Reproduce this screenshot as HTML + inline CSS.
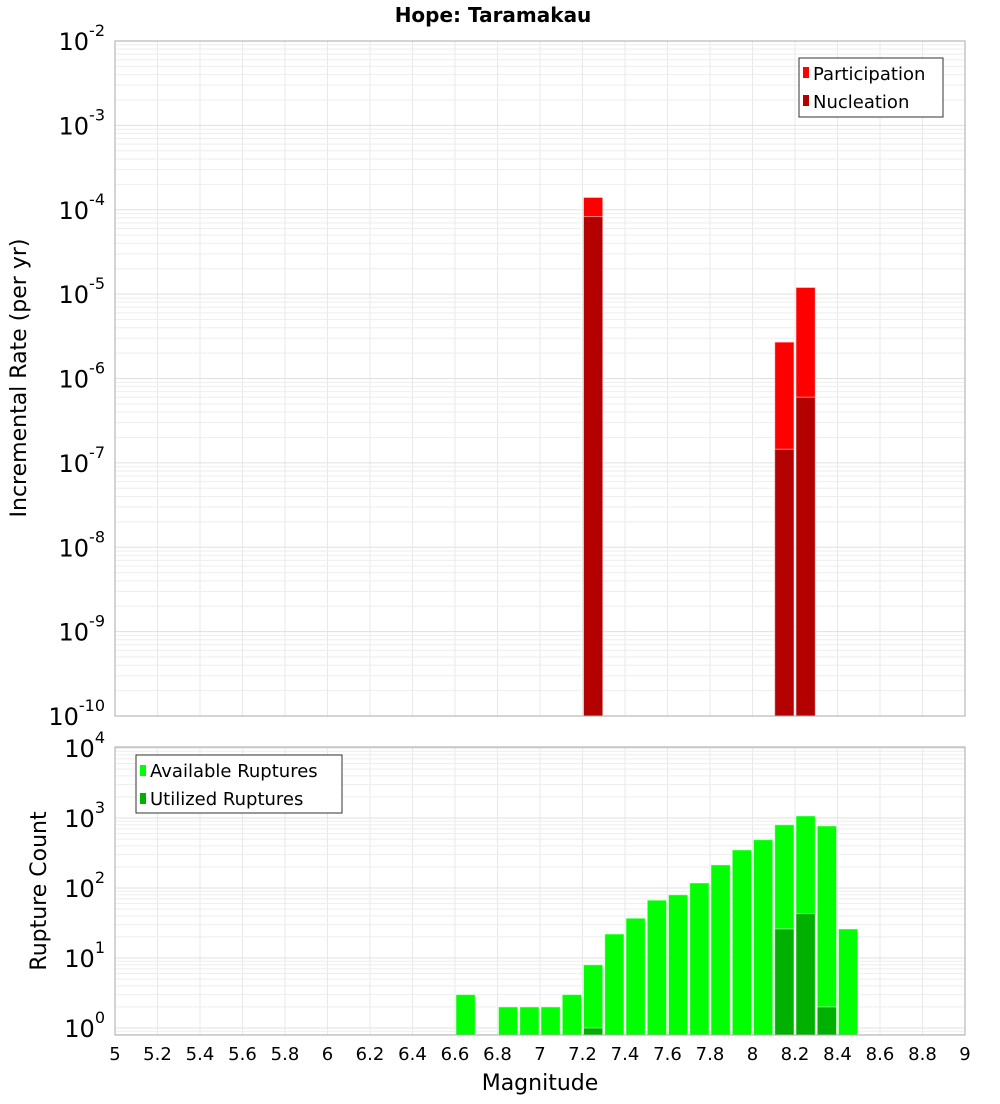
<!DOCTYPE html>
<html><head><meta charset="utf-8">
<style>body{margin:0;background:#fff;font-family:"DejaVu Sans","Liberation Sans",sans-serif}</style>
</head><body>
<svg id="c" width="1000" height="1100" xmlns="http://www.w3.org/2000/svg" font-family="DejaVu Sans, Liberation Sans, sans-serif"></svg>
<script>
const topMags = [7.25, 8.15, 8.25];
const participation = [1.4e-4, 2.7e-6, 1.2e-5];
const nucleation = [8.3e-5, 1.45e-7, 6e-7];
const botMags = [6.65,6.85,6.95,7.05,7.15,7.25,7.35,7.45,7.55,7.65,7.75,7.85,7.95,8.05,8.15,8.25,8.35,8.45];
const available = [3,2,2,2,3,8,22,37,67,80,118,214,350,490,800,1070,770,26];
const utilMags = [7.25,8.15,8.25,8.35];
const utilized = [1,26,43,2];
const xTicks = [5,5.2,5.4,5.6,5.8,6,6.2,6.4,6.6,6.8,7,7.2,7.4,7.6,7.8,8,8.2,8.4,8.6,8.8,9];
const topExps = [-10,-9,-8,-7,-6,-5,-4,-3,-2];
const botExps = [0,1,2,3,4];

const svg=document.getElementById('c');const NS='http://www.w3.org/2000/svg';
function el(t,a,p){const e=document.createElementNS(NS,t);for(const k in a)e.setAttribute(k,a[k]);(p||svg).appendChild(e);return e;}
const X0=115,X1=965;
const xs=m=>X0+(m-5)/4*(X1-X0);
const T0=41,T1=716; const ty=v=>T1-(Math.log10(v)+10)/8*(T1-T0);
const B0=747,B1=1035; const BD=70; const by=v=>1028-Math.log10(v)*BD;
const bw=(X1-X0)/40;

function grid(y0,y1,yf,exps,lo){
  const g=el('g',{});
  for(const t of xTicks){const l=el('line',{x1:xs(t),x2:xs(t),y1:y0,y2:y1,stroke:'#e8e8e8','stroke-width':1},g);}
  for(let i=0;i<exps.length;i++){const e=exps[i];for(let k=1;k<10;k++){const v=k*Math.pow(10,e);const y=yf(v);if(y<y0-0.5||y>y1+0.5)continue;el('line',{x1:X0,x2:X1,y1:y,y2:y,stroke:k==1?'#e0e0e0':'#eeeeee','stroke-width':1},g);}}
  if(lo!==undefined){for(let k=8;k<10;k++){const y=yf(k/10);if(y<=y1)el('line',{x1:X0,x2:X1,y1:y,y2:y,stroke:'#eeeeee'},g);}}
}
grid(T0,T1,ty,topExps);
grid(B0,B1,by,botExps,true);

function bar(m,v,yf,base,fill,name){const x=xs(m)-bw/2+1;const y=yf(v);const r=el('rect',{x:x,y:y,width:bw-2,height:base-y,fill:fill,stroke:'rgba(255,255,255,0.5)','stroke-width':1});}
for(let i=0;i<topMags.length;i++)bar(topMags[i],participation[i],ty,T1,'#ff0000','participation-bar');
for(let i=0;i<topMags.length;i++)bar(topMags[i],nucleation[i],ty,T1,'#b30000','nucleation-bar');
for(let i=0;i<botMags.length;i++)bar(botMags[i],available[i],by,B1,'#00ff00','available-bar');
for(let i=0;i<utilMags.length;i++)bar(utilMags[i],utilized[i],by,B1,'#00b000','utilized-bar');

el('rect',{x:X0,y:T0,width:X1-X0,height:T1-T0,fill:'none',stroke:'#aaa'});
el('rect',{x:X0,y:B0,width:X1-X0,height:B1-B0,fill:'none',stroke:'#aaa'});

function ylab(exps,yf,name){for(const e of exps){const t=el('text',{x:105,y:yf(Math.pow(10,e))+9,'text-anchor':'end','font-size':24,fill:'#000'});t.textContent='10';const s=el('tspan',{dy:-14,'font-size':16},t);s.textContent=e;}}
ylab(topExps,ty,'y-tick-top');
ylab(botExps,by,'y-tick-bottom');
for(const t of xTicks){const tx=el('text',{x:xs(t),y:1060,'text-anchor':'middle','font-size':18});tx.textContent=String(t);}
</script>
<div></div>
<svg style="position:absolute;left:0;top:0" width="1000" height="1100" xmlns="http://www.w3.org/2000/svg" font-family="DejaVu Sans, Liberation Sans, sans-serif">
<text x="493" y="22" text-anchor="middle" font-size="20" font-weight="bold">Hope: Taramakau</text>
<text transform="translate(26,378) rotate(-90)" text-anchor="middle" font-size="22">Incremental Rate (per yr)</text>
<text transform="translate(46,891) rotate(-90)" text-anchor="middle" font-size="22">Rupture Count</text>
<text x="540" y="1090" text-anchor="middle" font-size="22">Magnitude</text>
<g>
<rect x="799" y="58" width="144" height="59" fill="#fff" stroke="#333"/>
<rect x="803" y="67" width="6" height="11" fill="#ff0000"/>
<text x="813" y="80" font-size="18">Participation</text>
<rect x="803" y="95" width="6" height="11" fill="#b30000"/>
<text x="813" y="108" font-size="18">Nucleation</text>
</g>
<g>
<rect x="136" y="755" width="206" height="58" fill="#fff" stroke="#333"/>
<rect x="140" y="765" width="6" height="11" fill="#00ff00"/>
<text x="150" y="777" font-size="18">Available Ruptures</text>
<rect x="140" y="793" width="6" height="11" fill="#00b000"/>
<text x="150" y="805" font-size="18">Utilized Ruptures</text>
</g>
</svg>
</body></html>
